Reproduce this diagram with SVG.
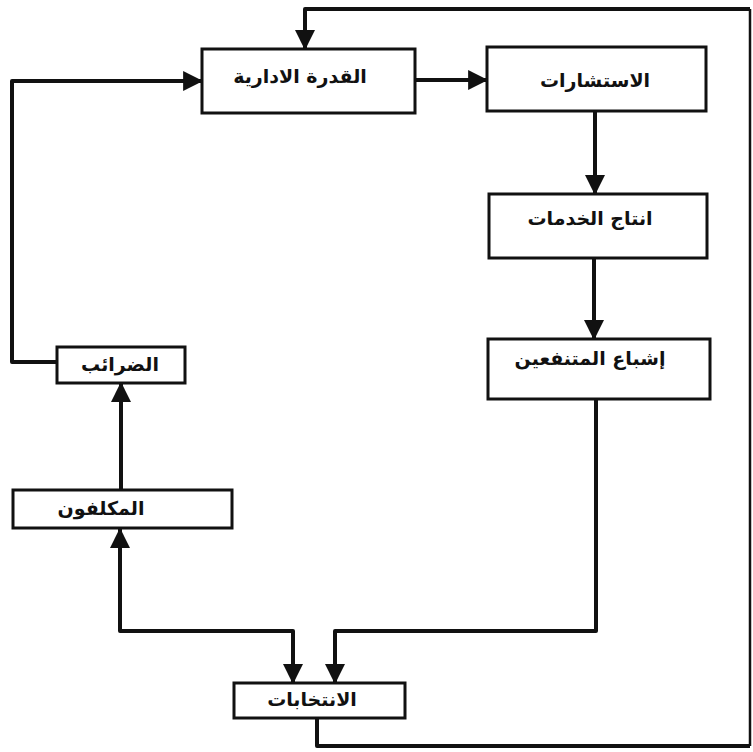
<svg xmlns="http://www.w3.org/2000/svg" width="753" height="752" viewBox="0 0 753 752">
<style>
.box{fill:#fff;stroke:#111;stroke-width:3}
.lbl{font-family:"DejaVu Sans",sans-serif;font-weight:bold;font-size:19px;fill:#111;text-anchor:middle;dominant-baseline:central}
.con{fill:none;stroke:#111;stroke-width:4;stroke-linejoin:round}
.thin{fill:none;stroke:#111;stroke-width:2.5}
</style>
<defs>
<marker id="ah" markerUnits="userSpaceOnUse" markerWidth="20" markerHeight="20" refX="17" refY="9" orient="auto-start-reverse" viewBox="0 0 18 18">
<path d="M0,0 L18,9 L0,18 Z" fill="#111"/>
</marker>
</defs>
<rect width="753" height="752" fill="#fff"/>
<g id="connectors">
<path class="con" d="M415,80 H487" marker-end="url(#ah)"/>
<path class="con" d="M595,111 V194" marker-end="url(#ah)"/>
<path class="con" d="M594,258 V339" marker-end="url(#ah)"/>
<path class="con" d="M596,399 V631 H335 V683" marker-end="url(#ah)"/>
<path class="con" d="M120,529 V631 H293 V683" marker-start="url(#ah)" marker-end="url(#ah)"/>
<path class="con" d="M121,490 V383" marker-end="url(#ah)"/>
<path class="con" d="M57,362 H12 V81 H202" marker-end="url(#ah)"/>
<path class="con" d="M317,718 V746 H750" />
<path class="thin" d="M750,746 V9"/>
<path class="con" d="M750,9 H305 V49" marker-end="url(#ah)"/>
</g>
<g id="n-qudra"><rect class="box" x="202" y="49" width="213" height="64"/><text class="lbl" x="300" y="76">القدرة الادارية</text></g>
<g id="n-istisharat"><rect class="box" x="487" y="47" width="219" height="64"/><text class="lbl" x="595" y="80">الاستشارات</text></g>
<g id="n-intaj"><rect class="box" x="489" y="194" width="218" height="64"/><text class="lbl" x="590" y="218">انتاج الخدمات</text></g>
<g id="n-ishba"><rect class="box" x="488" y="339" width="222" height="60"/><text class="lbl" x="590" y="358">إشباع المتنفعين</text></g>
<g id="n-daraib"><rect class="box" x="57" y="347" width="128" height="36"/><text class="lbl" x="120" y="364">الضرائب</text></g>
<g id="n-mukallafun"><rect class="box" x="13" y="490" width="219" height="38"/><text class="lbl" x="101" y="508">المكلفون</text></g>
<g id="n-intikhabat"><rect class="box" x="234" y="683" width="171" height="35"/><text class="lbl" x="312" y="699">الانتخابات</text></g>
</svg>
